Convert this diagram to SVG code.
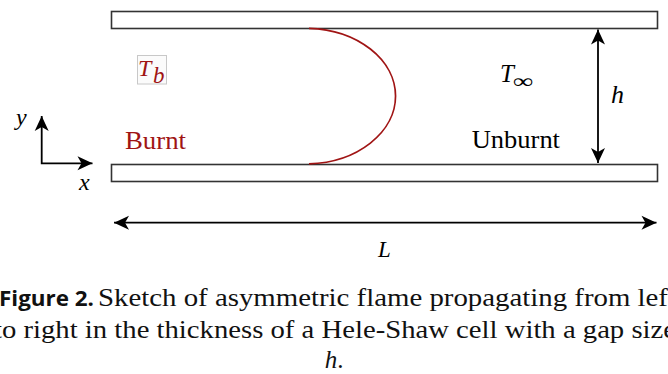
<svg xmlns="http://www.w3.org/2000/svg" width="668" height="374" viewBox="0 0 668 374">
<style>
.plate{fill:#fff;stroke:#333;stroke-width:1.6}
.flame{fill:none;stroke:#a01414;stroke-width:1.7}
.dim{stroke:#000;stroke-width:1.8;fill:none}
.serif{font-family:"Liberation Serif","Times New Roman",serif}
.it{font-style:italic}
.red{fill:#a01414}
.blk{fill:#000}
.cap{font-family:"Liberation Serif","Times New Roman",serif;font-size:25px;fill:#111}
.capb{font-family:"Open Sans","Liberation Sans",sans-serif;font-weight:bold;font-size:21px;fill:#111}
</style>
<defs>
<marker id="ah" markerUnits="userSpaceOnUse" markerWidth="20" markerHeight="20" viewBox="-16 -10 20 20" refX="0" refY="0" orient="auto-start-reverse">
<path d="M0,0 L-15,-7 L-11,0 L-15,7 Z" fill="#000"/>
</marker>
</defs>
<g id="top-plate"><rect class="plate" x="111.5" y="11.5" width="546" height="17"/></g>
<g id="bottom-plate"><rect class="plate" x="111.5" y="164.5" width="546" height="17"/></g>
<g id="flame"><path class="flame" d="M309,28.3 A90,67.8 0 0 1 309,163.8"/></g>
<g id="connectors">
<line class="dim" x1="598" y1="29.5" x2="598" y2="163" marker-start="url(#ah)" marker-end="url(#ah)"/>
<line class="dim" x1="114" y1="222.7" x2="656.5" y2="222.7" marker-start="url(#ah)" marker-end="url(#ah)"/>
<polyline class="dim" points="41.7,116 41.7,163.3 92.5,163.3" marker-start="url(#ah)" marker-end="url(#ah)"/>
</g>
<g id="label-Tb">
<rect x="137.5" y="55.5" width="29" height="28.5" fill="#fbfbfb" stroke="#c8c8c8" stroke-width="1"/>
<text class="serif it red" x="138" y="76" font-size="24">T</text>
<text class="serif it red" x="153" y="83" font-size="23">b</text>
</g>
<g id="label-Tinf">
<text class="serif it blk" x="500" y="81.7" font-size="25">T</text>
<text class="serif blk" x="512.5" y="88" font-size="20" textLength="20.5" lengthAdjust="spacingAndGlyphs">∞</text>
</g>
<g id="label-h"><text class="serif it blk" x="611" y="103" font-size="26">h</text></g>
<g id="label-burnt"><text class="serif red" x="125" y="149.3" font-size="25" textLength="61" lengthAdjust="spacingAndGlyphs">Burnt</text></g>
<g id="label-unburnt"><text class="serif blk" x="471.7" y="148.3" font-size="25" textLength="88.3" lengthAdjust="spacingAndGlyphs">Unburnt</text></g>
<g id="axis-labels">
<text class="serif it blk" x="16" y="125" font-size="24">y</text>
<text class="serif it blk" x="79" y="190" font-size="24">x</text>
</g>
<g id="label-L"><text class="serif it blk" x="378" y="257" font-size="23">L</text></g>
<g id="caption">
<text class="capb" x="-1" y="306" textLength="95" lengthAdjust="spacingAndGlyphs">Figure 2.</text>
<text class="cap" x="98" y="306" textLength="578" lengthAdjust="spacingAndGlyphs">Sketch of asymmetric flame propagating from left</text>
<text class="cap" x="-6" y="338" textLength="682" lengthAdjust="spacingAndGlyphs">to right in the thickness of a Hele-Shaw cell with a gap size</text>
<text class="cap" x="334" y="368" text-anchor="middle"><tspan font-style="italic">h</tspan>.</text>
</g>
</svg>
